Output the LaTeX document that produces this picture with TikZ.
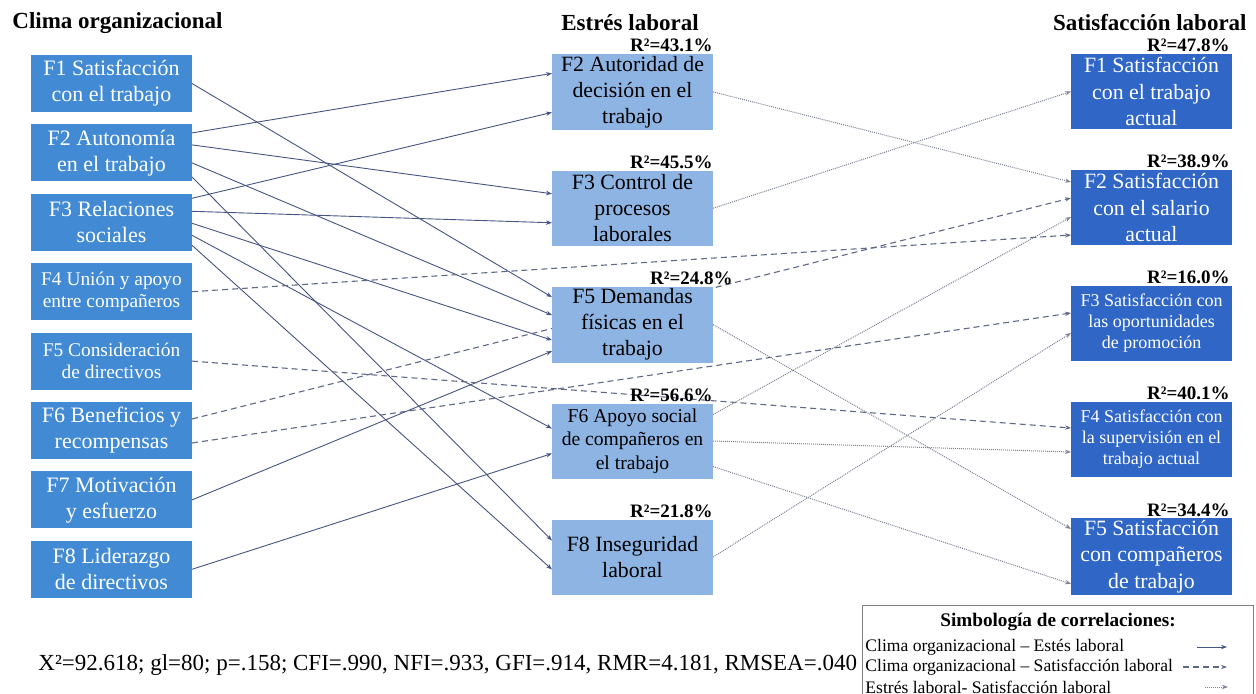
\documentclass[tikz,border=0pt]{standalone}
\usepackage{fontspec}
\setmainfont{Liberation Serif}
\usetikzlibrary{positioning,arrows.meta,backgrounds}

\definecolor{climafill}{RGB}{66,139,212}
\definecolor{estresfill}{RGB}{142,180,227}
\definecolor{satisfill}{RGB}{48,103,199}
\definecolor{linkcol}{RGB}{70,84,130}
\definecolor{dashcol}{RGB}{95,104,135}
\definecolor{dotcol}{RGB}{125,130,150}

\begin{document}
\begin{tikzpicture}[x=0.5pt, y=-0.5pt,
    box/.style={rectangle, minimum width=80.5pt, inner sep=1pt, outer sep=0pt,
                align=center},
    clima/.style={box, minimum height=28.5pt, fill=climafill, text=white,
                  font=\fontsize{11}{13}\selectfont},
    estres/.style={box, minimum height=37.5pt, fill=estresfill, text=black,
                   font=\fontsize{10.9}{13}\selectfont},
    satis/.style={box, minimum height=37.5pt, fill=satisfill, text=white,
                  font=\fontsize{10.9}{13.2}\selectfont},
    cramped/.style={font=\fontsize{9.7}{11}\selectfont},
    crampedr/.style={font=\fontsize{9}{10.5}\selectfont},
    head/.style={font=\bfseries\fontsize{11.5}{13}\selectfont, inner sep=0pt},
    rsq/.style={font=\bfseries\fontsize{9.5}{11}\selectfont, inner sep=0pt, anchor=base east},
    ley/.style={font=\fontsize{8.8}{10}\selectfont, inner sep=0pt, anchor=west},
    ce/.style={draw=linkcol, line width=0.45pt, -{Stealth[length=3pt,width=2.2pt]}},
    cs/.style={draw=dashcol, line width=0.55pt, dash pattern=on 3pt off 2pt,
               -{Stealth[length=3pt,width=2.2pt]}},
    es/.style={draw=dotcol, line width=0.5pt, dash pattern=on 0.5pt off 0.5pt,
               -{Stealth[length=3pt,width=2.2pt]}},
]
\useasboundingbox (0,0) rectangle (1256,694);

% titulos de columna
\node[head, anchor=west] (t-clima) at (12,23) {Clima organizacional};
\node[head] (t-estres) at (630,23) {Estrés laboral};
\node[head, anchor=east] (t-satis) at (1247,23) {Satisfacción laboral};

% clima organizacional
\node[clima, anchor=north west] (c1) at (31,55) {F1 Satisfacción\\con el trabajo};
\node[clima, below=6.2pt of c1] (c2) {F2 Autonomía\\en el trabajo};
\node[clima, below=6.2pt of c2] (c3) {F3 Relaciones\\sociales};
\node[clima, cramped, below=6.2pt of c3] (c4) {F4 Unión y apoyo\\entre compañeros};
\node[clima, cramped, below=6.2pt of c4] (c5) {F5 Consideración\\de directivos};
\node[clima, below=6.2pt of c5] (c6) {F6 Beneficios y\\recompensas};
\node[clima, below=6.2pt of c6] (c7) {F7 Motivación\\y esfuerzo};
\node[clima, below=6.2pt of c7] (c8) {F8 Liderazgo\\de directivos};

% estres laboral
\node[estres, anchor=north west] (e2) at (552,54) {F2 Autoridad de\\decisión en el\\trabajo};
\node[estres, below=20.5pt of e2] (e3) {F3 Control de\\procesos\\laborales};
\node[estres, below=20.5pt of e3] (e5) {F5 Demandas\\físicas en el\\trabajo};
\node[estres, font=\fontsize{9.8}{11.75}\selectfont, below=20.5pt of e5] (e6)
  {F6 Apoyo social\\de compañeros en\\el trabajo};
\node[estres, below=20.5pt of e6] (e8) {F8 Inseguridad\\laboral};

% satisfaccion laboral
\node[satis, anchor=north west] (s1) at (1071,54) {F1 Satisfacción\\con el trabajo\\actual};
\node[satis, below=20.5pt of s1] (s2) {F2 Satisfacción\\con el salario\\actual};
\node[satis, crampedr, below=20.5pt of s2] (s3) {F3 Satisfacción con\\las oportunidades\\de promoción};
\node[satis, crampedr, below=20.5pt of s3] (s4) {F4 Satisfacción con\\la supervisión en el\\trabajo actual};
\node[satis, below=20.5pt of s4] (s5) {F5 Satisfacción\\con compañeros\\de trabajo};

% R cuadrado
\node[rsq] (r-e2) at ([yshift=1pt]e2.north east) {R²=43.1\%};
\node[rsq] (r-e3) at ([yshift=1pt]e3.north east) {R²=45.5\%};
\node[rsq] (r-e5) at ([xshift=10pt,yshift=1pt]e5.north east) {R²=24.8\%};
\node[rsq] (r-e6) at ([yshift=1pt]e6.north east) {R²=56.6\%};
\node[rsq] (r-e8) at ([yshift=1pt]e8.north east) {R²=21.8\%};
\node[rsq] (r-s1) at ([xshift=-1pt,yshift=1pt]s1.north east) {R²=47.8\%};
\node[rsq] (r-s2) at ([xshift=-1pt,yshift=1pt]s2.north east) {R²=38.9\%};
\node[rsq] (r-s3) at ([xshift=-1pt,yshift=1pt]s3.north east) {R²=16.0\%};
\node[rsq] (r-s4) at ([xshift=-1pt,yshift=1pt]s4.north east) {R²=40.1\%};
\node[rsq] (r-s5) at ([xshift=-1pt,yshift=1pt]s5.north east) {R²=34.4\%};

\begin{scope}[on background layer]
% clima -> estres
\draw[ce] (c1.east) -- ([yshift=13.75pt]e5.west);
\draw[ce] ([yshift=10pt]c2.east) -- ([yshift=9.25pt]e2.west);
\draw[ce] ([yshift=4pt]c2.east) -- ([yshift=7.25pt]e3.west);
\draw[ce] ([yshift=-5pt]c2.east) -- ([yshift=4.75pt]e5.west);
\draw[ce] ([yshift=-12pt]c2.east) -- ([yshift=8.25pt]e8.west);
\draw[ce] ([yshift=12pt]c3.east) -- ([yshift=-10.25pt]e2.west);
\draw[ce] ([yshift=5.5pt]c3.east) -- ([yshift=-7.25pt]e3.west);
\draw[ce] ([yshift=-0.5pt]c3.east) -- ([yshift=-7.75pt]e5.west);
\draw[ce] ([yshift=-6.5pt]c3.east) -- ([yshift=6.25pt]e6.west);
\draw[ce] ([yshift=-11.5pt]c3.east) -- ([yshift=-6.25pt]e8.west);
\draw[ce] (c7.east) -- ([yshift=-13.25pt]e5.west);
\draw[ce] (c8.east) -- ([yshift=-6.25pt]e6.west);
% clima -> satisfaccion
\draw[cs] (c4.east) -- ([yshift=-13.75pt]s2.west);
\draw[cs] (c5.east) -- ([yshift=5.75pt]s4.west);
\draw[cs] ([yshift=5.75pt]c6.east) -- ([yshift=4.75pt]s2.west);
\draw[cs] ([yshift=-6.25pt]c6.east) -- ([yshift=5.25pt]s3.west);
% estres -> satisfaccion
\draw[es] (e2.east) -- ([yshift=12.75pt]s2.west);
\draw[es] (e3.east) -- (s1.west);
\draw[es] (e5.east) -- ([yshift=13.75pt]s5.west);
\draw[es] ([yshift=13.25pt]e6.east) -- ([yshift=-4.75pt]s2.west);
\draw[es] (e6.east) -- ([yshift=-6.25pt]s4.west);
\draw[es] ([yshift=-12.75pt]e6.east) -- ([yshift=-13.75pt]s5.west);
\draw[es] (e8.east) -- ([yshift=-4.75pt]s3.west);
\end{scope}

% ajuste del modelo
\node[anchor=west, inner sep=0pt, font=\fontsize{11.5}{13}\selectfont] (ajuste) at (38,665)
  {X²=92.618; gl=80; p=.158; CFI=.990, NFI=.933, GFI=.914, RMR=4.181, RMSEA=.040};

% simbologia
\draw[draw=gray, line width=0.5pt] (862,700) -- (862,605) -- (1253,605) -- (1253,700);
\node[font=\bfseries\fontsize{9.6}{11}\selectfont, inner sep=0pt] (ley-t) at (1058,622)
  {Simbología de correlaciones:};
\node[ley] (ley-1) at (865,647) {Clima organizacional – Estés laboral};
\node[ley] (ley-2) at (865,667) {Clima organizacional – Satisfacción laboral};
\node[ley] (ley-3) at (865,687) {Estrés laboral- Satisfacción laboral};
\coordinate (ley-1a) at (1197,647); \coordinate (ley-1b) at (1227,647);
\coordinate (ley-2a) at (1183,667); \coordinate (ley-2b) at (1227,667);
\coordinate (ley-3a) at (1205,687); \coordinate (ley-3b) at (1228,687);
\draw[ce] (ley-1a) -- (ley-1b);
\draw[cs] (ley-2a) -- (ley-2b);
\draw[es] (ley-3a) -- (ley-3b);
\end{tikzpicture}
\end{document}
